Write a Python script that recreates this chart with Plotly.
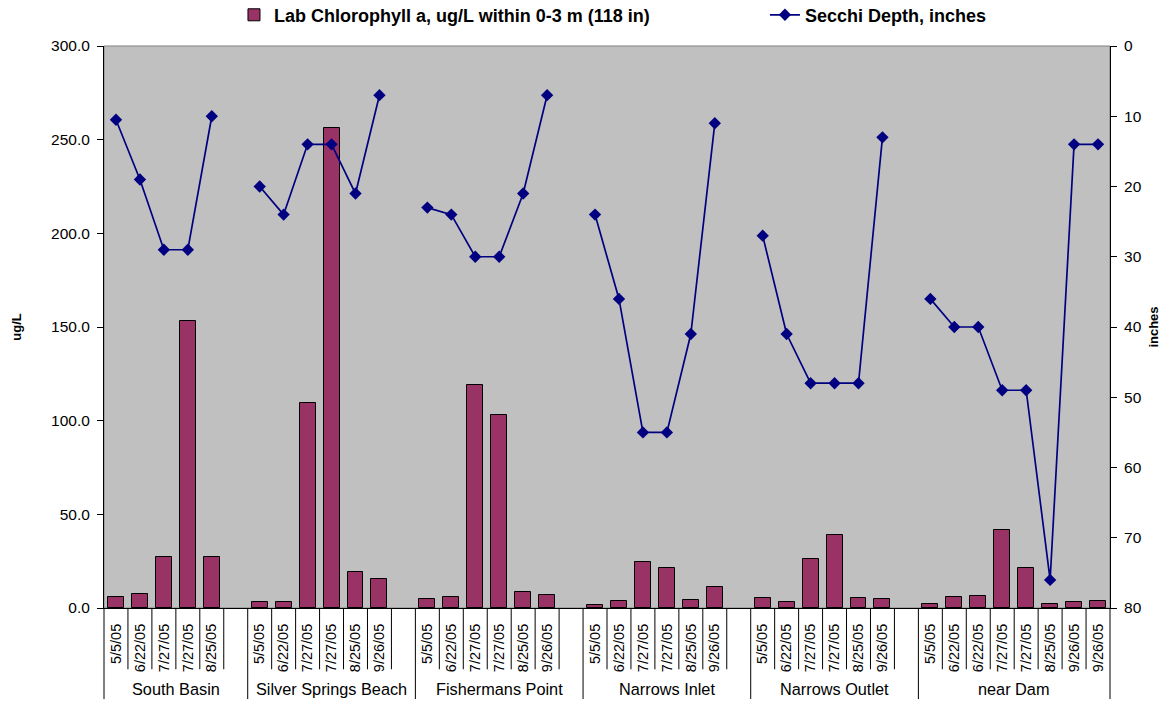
import plotly.graph_objects as go

# ---------------- data ----------------
groups = ["South Basin", "Silver Springs Beach", "Fishermans Point",
          "Narrows Inlet", "Narrows Outlet", "near Dam"]

dates_sb = ["5/5/05", "6/22/05", "7/27/05", "7/27/05", "8/25/05"]
dates_ssb = ["5/5/05", "6/22/05", "7/27/05", "7/27/05", "8/25/05", "9/26/05"]
dates_fp = ["5/5/05", "6/22/05", "7/27/05", "7/27/05", "8/25/05", "9/26/05"]
dates_ni = ["5/5/05", "6/22/05", "7/27/05", "7/27/05", "8/25/05", "9/26/05"]
dates_no = ["5/5/05", "6/22/05", "7/27/05", "7/27/05", "8/25/05", "9/26/05"]
dates_dam = ["5/5/05", "6/22/05", "6/22/05", "7/27/05", "7/27/05", "8/25/05", "9/26/05", "9/26/05"]

chl_sb = [5.8, 7.3, 27.0, 153.4, 27.0]
chl_ssb = [3.4, 3.0, 109.7, 256.2, 19.2, 15.3]
chl_fp = [4.6, 5.7, 119.0, 102.8, 8.7, 6.9]
chl_ni = [1.4, 3.6, 24.6, 21.6, 4.2, 11.3]
chl_no = [5.4, 3.4, 26.2, 39.1, 5.4, 4.6]
chl_dam = [2.2, 5.7, 6.3, 41.7, 21.2, 2.4, 3.2, 3.8]

secchi_sb = [10.5, 19, 29, 29, 10]
secchi_ssb = [20, 24, 14, 14, 21, 7]
secchi_fp = [23, 24, 30, 30, 21, 7]
secchi_ni = [24, 36, 55, 55, 41, 11]
secchi_no = [27, 41, 48, 48, 48, 13]
secchi_dam = [36, 40, 40, 49, 49, 76, 14, 14]

left_ticks = [0, 50, 100, 150, 200, 250, 300]
right_ticks = [0, 10, 20, 30, 40, 50, 60, 70, 80]

# -------------- build category slots --------------
all_dates = [dates_sb, dates_ssb, dates_fp, dates_ni, dates_no, dates_dam]
all_chl = [chl_sb, chl_ssb, chl_fp, chl_ni, chl_no, chl_dam]
all_sec = [secchi_sb, secchi_ssb, secchi_fp, secchi_ni, secchi_no, secchi_dam]

xs, labels, chl, sec = [], [], [], []
group_start, group_end = [], []
pos = 0
for gi, (d, c, s) in enumerate(zip(all_dates, all_chl, all_sec)):
    group_start.append(pos)
    for k in range(len(d)):
        xs.append(pos)
        labels.append(d[k])
        chl.append(c[k])
        sec.append(s[k])
        pos += 1
    if gi < len(groups) - 1:
        # empty category slot that ends each group
        xs.append(pos)
        labels.append("")
        chl.append(None)
        sec.append(None)
        pos += 1
    group_end.append(pos)
n_slots = pos

FONT = "Liberation Sans, Arial, sans-serif"

fig = go.Figure()
fig.add_trace(go.Bar(
    x=xs, y=chl, name="Lab Chlorophyll a, ug/L within 0-3 m (118 in)",
    width=0.667, marker=dict(color="#993366", line=dict(color="#000000", width=1)),
    yaxis="y", legend="legend"))
fig.add_trace(go.Scatter(
    x=xs, y=sec, name="Secchi Depth, inches", mode="lines+markers",
    connectgaps=False,
    line=dict(color="#000080", width=1.7),
    marker=dict(symbol="diamond", size=9.5, color="#000080"),
    yaxis="y2", legend="legend2"))

shapes = []
# plot-area border (grey top edge)
shapes.append(dict(type="rect", xref="paper", yref="paper", x0=0, x1=1, y0=0, y1=1,
                   line=dict(color="#808080", width=1), layer="below"))
# category tick lines below the axis
group_bounds = set(group_start) | {n_slots}
for b in range(n_slots + 1):
    xb = b - 0.5
    long = b in group_bounds
    y1 = -0.162 if long else -0.109
    if b == 0:
        shapes.append(dict(type="line", xref="paper", yref="paper", x0=0, x1=0,
                           y0=0, y1=y1, line=dict(color="#000000", width=1)))
    elif b == n_slots:
        shapes.append(dict(type="line", xref="paper", yref="paper", x0=1, x1=1,
                           y0=0, y1=y1, line=dict(color="#000000", width=1)))
    else:
        shapes.append(dict(type="line", xref="x", yref="paper", x0=xb, x1=xb,
                           y0=0, y1=y1, line=dict(color="#000000", width=1)))

annotations = []
for g, a, b in zip(groups, group_start, group_end):
    annotations.append(dict(text=g, x=(a + b - 1) / 2, xref="x", y=-0.144, yref="paper",
                            showarrow=False, xanchor="center", yanchor="middle",
                            font=dict(family=FONT, size=16.3, color="#000000")))

tick_x = [x for x, l in zip(xs, labels) if l]
tick_t = [l for l in labels if l]

leg_font = dict(family=FONT, size=18, color="#000000", weight="bold")

fig.update_layout(
    width=1169, height=708,
    margin=dict(l=104, r=59, t=46, b=100, autoexpand=False),
    paper_bgcolor="#FFFFFF", plot_bgcolor="#C0C0C0",
    font=dict(family=FONT, size=15, color="#000000"),
    showlegend=True,
    legend=dict(orientation="h", x=0.1292, xanchor="left", y=1.055, yanchor="middle",
                font=leg_font, bgcolor="rgba(0,0,0,0)"),
    legend2=dict(orientation="h", x=0.657, xanchor="left", y=1.055, yanchor="middle",
                 font=leg_font, bgcolor="rgba(0,0,0,0)"),
    bargap=0,
    xaxis=dict(range=[-0.5, n_slots - 0.5], tickmode="array", tickvals=tick_x, ticktext=tick_t,
               tickangle=-90, ticks="", showline=True, linecolor="#000000", linewidth=1,
               showgrid=False, zeroline=False, ticklabelstandoff=9,
               tickfont=dict(family=FONT, size=14.5)),
    yaxis=dict(range=[0, 300], tickmode="array", tickvals=left_ticks, tickformat=".1f",
               ticks="outside", ticklen=6, tickcolor="#000000", showline=True,
               linecolor="#000000", linewidth=1, showgrid=False, zeroline=False,
               ticklabelstandoff=4,
               title=dict(text="<b>ug/L</b>", standoff=26, font=dict(size=13)),
               tickfont=dict(family=FONT, size=15.5)),
    yaxis2=dict(range=[80, 0], overlaying="y", side="right", tickmode="array",
                tickvals=right_ticks, ticks="outside", ticklen=6, tickcolor="#000000",
                showline=True, linecolor="#000000", linewidth=1, showgrid=False,
                zeroline=False, ticklabelstandoff=4,
                title=dict(text="<b>inches</b>", standoff=8, font=dict(size=13)),
                tickfont=dict(family=FONT, size=15.5)),
    # inner halves of the crossing tick marks
    yaxis3=dict(range=[0, 300], overlaying="y", side="left", tickmode="array",
                tickvals=left_ticks, ticks="inside", ticklen=7, tickcolor="#000000",
                showticklabels=False, showline=False, showgrid=False, zeroline=False),
    yaxis4=dict(range=[80, 0], overlaying="y", side="right", tickmode="array",
                tickvals=right_ticks, ticks="inside", ticklen=6, tickcolor="#000000",
                showticklabels=False, showline=False, showgrid=False, zeroline=False),
    shapes=shapes, annotations=annotations,
)

fig.write_html("out.html", config={"displayModeBar": False},
               post_script="document.body.style.margin='0px';")
